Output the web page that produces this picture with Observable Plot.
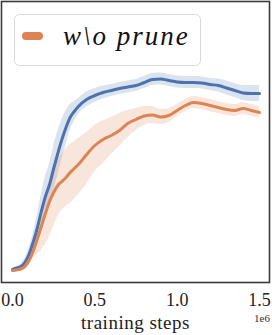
<!DOCTYPE html>
<html><head><meta charset="utf-8">
<script src="https://cdn.jsdelivr.net/npm/d3@7"></script>
<script src="https://cdn.jsdelivr.net/npm/@observablehq/plot@0.6"></script>
<style>
html,body{margin:0;padding:0;background:#fff;}
#wrap{position:relative;width:272px;height:335px;font-family:"Liberation Serif","DejaVu Serif",serif;}
#legend{position:absolute;left:14px;top:14px;}
#exp{position:absolute;right:2px;top:312px;font-size:11px;color:#333;font-family:"Liberation Serif","DejaVu Serif",serif;}
g[aria-label="x-axis label"] text{letter-spacing:0.5px;}
</style>
</head><body>
<div id="wrap"></div>
<script>
// training steps (in units of 1e6)
const steps = [0,0.025,0.05,0.075,0.1,0.125,0.15,0.175,0.2,0.225,0.25,0.275,0.3,0.325,0.35,0.375,0.4,
  0.45,0.5,0.55,0.6,0.65,0.7,0.75,0.8,0.85,0.9,0.95,1.0,1.05,1.1,1.15,1.2,1.25,1.3,1.35,1.4,1.45,1.5];

// series with pruning (blue)
const pruneMean = [20,50,80,160,320,560,840,1180,1480,1720,2040,2340,2620,2860,3060,3180,3280,
  3420,3500,3560,3600,3640,3670,3700,3760,3820,3830,3800,3770,3760,3760,3750,3720,3700,3650,3600,3550,3540,3540];
const pruneLow = [0,20,40,80,200,380,580,840,1080,1300,1600,1900,2220,2520,2800,2980,3120,
  3270,3360,3430,3480,3520,3550,3580,3640,3700,3710,3680,3650,3640,3640,3630,3600,3570,3510,3460,3400,3380,3380];
const pruneHigh = [40,80,120,240,440,740,1100,1520,1880,2140,2480,2780,3020,3200,3320,3380,3440,
  3570,3640,3690,3720,3760,3790,3820,3880,3940,3950,3920,3890,3880,3880,3870,3840,3830,3790,3740,3700,3700,3700];

// series w\o prune (orange)
const noPruneMean = [0,10,30,80,200,380,620,880,1140,1380,1560,1700,1780,1860,1960,2040,2120,
  2320,2500,2620,2700,2800,2940,3020,3090,3110,3070,3100,3200,3300,3360,3340,3300,3260,3220,3200,3240,3200,3160];
const noPruneLow = [-20,-10,-10,0,100,240,320,400,520,680,880,1080,1200,1280,1340,1420,1520,
  1720,1980,2140,2320,2480,2660,2800,2900,2940,2920,2960,3080,3180,3240,3220,3180,3140,3100,3080,3120,3080,3040];
const noPruneHigh = [20,30,70,160,300,540,840,1180,1500,1800,2040,2200,2320,2440,2520,2580,2640,
  2760,2900,3000,3060,3140,3200,3240,3280,3280,3220,3240,3320,3420,3480,3460,3420,3380,3340,3320,3360,3320,3280];

const xTicks = [0, 0.5, 1.0, 1.5];
const legendLabel = "w\\o prune";
const xLabel = "training steps";

const blue = "#4c72b0", orange = "#dd8452";
const serif = "'Liberation Serif', 'DejaVu Serif', serif";

const prune = steps.map((s,i)=>({x:s, y:pruneMean[i], lo:pruneLow[i], hi:pruneHigh[i]}));
const noPrune = steps.map((s,i)=>({x:s, y:noPruneMean[i], lo:noPruneLow[i], hi:noPruneHigh[i]}));

const chart = Plot.plot({
  width: 272, height: 335,
  marginLeft: 1, marginRight: 3, marginTop: 1, marginBottom: 53,
  style: {fontFamily: serif, background: "transparent", color: "#222"},
  x: {domain: [-0.0668, 1.5607]},
  y: {domain: [-240, 5380], axis: null},
  marks: [
    Plot.areaY(prune, {x:"x", y1:"lo", y2:"hi", fill: blue, fillOpacity: 0.2, curve: "monotone-x"}),
    Plot.areaY(noPrune, {x:"x", y1:"lo", y2:"hi", fill: orange, fillOpacity: 0.2, curve: "monotone-x"}),
    Plot.line(prune, {x:"x", y:"y", stroke: blue, strokeWidth: 3, curve: "monotone-x"}),
    Plot.line(noPrune, {x:"x", y:"y", stroke: orange, strokeWidth: 3, curve: "monotone-x"}),
    Plot.axisX({ticks: xTicks, tickFormat: d3.format(".1f"), tickSize: 0, tickPadding: 11, fontSize: 18,
      label: xLabel, labelAnchor: "center", labelArrow: "none", labelOffset: 46}),
    Plot.frame({stroke: "#3a3a3a", strokeWidth: 1.6})
  ]
});
const wrap = document.getElementById("wrap");
wrap.appendChild(chart);
chart.querySelectorAll('g[aria-label="x-axis label"] text').forEach(t=>{t.style.fontSize="19px";});

// legend
const lg = document.createElement("div");
lg.id = "legend";
lg.innerHTML = `<svg width="187" height="52" xmlns="http://www.w3.org/2000/svg">
  <rect x="0.5" y="0.5" width="186" height="51" rx="5" ry="5" fill="rgba(255,255,255,0.85)" stroke="#d9d9d9" stroke-width="1"/>
  <line x1="12" y1="22" x2="25" y2="22" stroke="${orange}" stroke-width="8" stroke-linecap="round"/>
  <text x="49" y="31" font-style="italic" font-size="27" letter-spacing="2" fill="#111"></text>
</svg>`;
const lt = lg.querySelector("text");
lt.textContent = legendLabel;
lt.style.fontFamily = serif;
wrap.appendChild(lg);

const ex = document.createElement("div");
ex.id = "exp"; ex.textContent = "1e6";
wrap.appendChild(ex);
</script>
</body></html>
